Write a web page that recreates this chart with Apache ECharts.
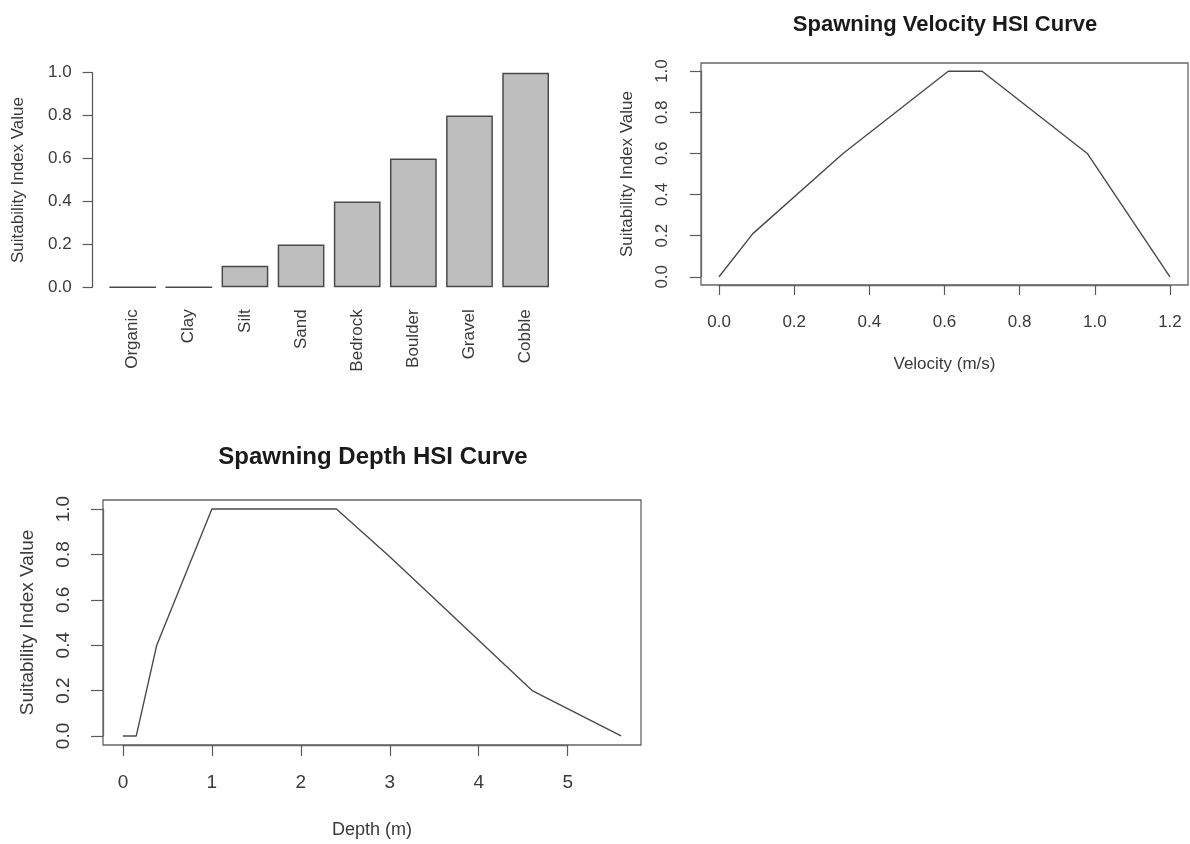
<!DOCTYPE html>
<html>
<head>
<meta charset="utf-8">
<script src="https://cdn.jsdelivr.net/npm/echarts@6/dist/echarts.min.js"></script>
<style>html,body{margin:0;padding:0;background:#fff}#c{width:1190px;height:844px}</style>
</head>
<body>
<div id="c"></div>
<script>
// ---- data ----
const substrates = ['Organic', 'Clay', 'Silt', 'Sand', 'Bedrock', 'Boulder', 'Gravel', 'Cobble'];
const substrateSI = [0, 0, 0.1, 0.2, 0.4, 0.6, 0.8, 1.0];

const velocity = [0, 0.09, 0.33, 0.61, 0.70, 0.98, 1.2];
const velocitySI = [0, 0.21, 0.6, 1.0, 1.0, 0.6, 0];

const depth = [0, 0.15, 0.38, 1.0, 2.4, 3.0, 4.6, 5.6];
const depthSI = [0, 0, 0.4, 1.0, 1.0, 0.79, 0.2, 0];

// tick ranges (R-style axes: ticks span these, plot region extended by 4%)
const siTickRange = [0, 1, 0.2];
const velocityTickRange = [0, 1.2, 0.2];
const depthTickRange = [0, 5, 1];

// ---- layout ----
const W = 1190, H = 844;
const ext = (lo, hi) => { const d = (hi - lo) * 0.04; return [lo - d, hi + d]; };
const velX = ext(0, 1.2), velY = ext(0, 1), depX = ext(0, 5.6), depY = ext(0, 1);
const velBox = {L: 701, R: 1188, T: 63, B: 285};
const depBox = {L: 103, R: 641, T: 500, B: 745};
const lin = (v, r, a, b) => a + (v - r[0]) / (r[1] - r[0]) * (b - a);

function tickGrid(box, xr, yr, xt, yt) {
  const l = lin(xt[0], xr, box.L, box.R), r = lin(xt[1], xr, box.L, box.R);
  const b = lin(yt[0], yr, box.B, box.T), t = lin(yt[1], yr, box.B, box.T);
  return {grid: {left: l, right: W - r, top: t, bottom: H - b, containLabel: false, outerBoundsMode: 'none'},
          xOff: box.B - b, yOff: l - box.L};
}
const velTG = tickGrid(velBox, velX, velY, velocityTickRange, siTickRange);
const depTG = tickGrid(depBox, depX, depY, depthTickRange, siTickRange);
const boxGrid = b => ({left: b.L, right: W - b.R, top: b.T, bottom: H - b.B, containLabel: false,
  outerBoundsMode: 'none', show: true, borderColor: '#666', borderWidth: 1.3, backgroundColor: 'transparent'});

// ---- chart ----
const FONT = '"Liberation Sans", Arial, sans-serif';
const TXT = '#3a3a3a';
const AX = '#5a5a5a';
const chart = echarts.init(document.getElementById('c'), null, {renderer: 'canvas'});
const pairs = (xs, ys) => xs.map((x, i) => [x, ys[i]]);
const fmt1 = v => Number(v).toFixed(1);
const lab = (o) => Object.assign({color: TXT, fontFamily: FONT}, o);

function tickAxis(grid, r, off, tickLen, label) {
  return {gridIndex: grid, type: 'value', min: r[0], max: r[1], interval: r[2], offset: off,
    axisLine: {show: true, onZero: false, lineStyle: {color: '#666', width: 1.3}},
    axisTick: {show: true, inside: false, length: tickLen, lineStyle: {color: AX, width: 1.2}},
    splitLine: {show: false}, axisLabel: lab(label)};
}
// plot-region axes: carry the data scale and the centred axis title only
const boxAxis = (grid, r, name, gap, size) => ({gridIndex: grid, type: 'value', min: r[0], max: r[1],
  axisLine: {show: false, onZero: false}, axisTick: {show: false}, axisLabel: {show: false},
  splitLine: {show: false},
  name: name, nameLocation: 'middle', nameGap: gap, nameTextStyle: lab({fontSize: size})});

chart.setOption({
  animation: false,
  backgroundColor: '#fff',
  title: [
    {text: 'Spawning Velocity HSI Curve', left: 940, top: 9, textAlign: 'center',
     textStyle: {fontFamily: FONT, fontWeight: 'bold', fontSize: 22, color: '#1a1a1a'}},
    {text: 'Spawning Depth HSI Curve', left: 368, top: 440, textAlign: 'center',
     textStyle: {fontFamily: FONT, fontWeight: 'bold', fontSize: 24, color: '#1a1a1a'}}
  ],
  grid: [
    {left: 104.6, right: 636.3, top: 72.7, bottom: 556.7, containLabel: false, outerBoundsMode: 'none'},
    boxGrid(velBox), velTG.grid,
    boxGrid(depBox), depTG.grid
  ],
  xAxis: [
    {gridIndex: 0, type: 'category', data: substrates,
     axisLine: {show: false}, axisTick: {show: false},
     axisLabel: lab({rotate: 90, fontSize: 17, margin: 22, interval: 0})},
    boxAxis(1, velX, 'Velocity (m/s)', 71, 17),
    tickAxis(2, velocityTickRange, velTG.xOff, 10, {fontSize: 17, margin: 29, formatter: fmt1}),
    boxAxis(3, depX, 'Depth (m)', 76, 18),
    tickAxis(4, depthTickRange, depTG.xOff, 11, {fontSize: 19, margin: 28})
  ],
  yAxis: [
    {gridIndex: 0, type: 'value', min: 0, max: 1, interval: 0.2, offset: 12,
     axisLine: {show: true, onZero: false, lineStyle: {color: AX, width: 1.3}},
     axisTick: {show: true, length: 10, lineStyle: {color: AX, width: 1.2}},
     splitLine: {show: false},
     axisLabel: lab({fontSize: 17, margin: 21, formatter: fmt1}),
     name: 'Suitability Index Value', nameLocation: 'middle', nameGap: 66,
     nameTextStyle: lab({fontSize: 17})},
    boxAxis(1, velY, 'Suitability Index Value', 65, 17),
    tickAxis(2, siTickRange, velTG.yOff, 11, {fontSize: 17, margin: 30, rotate: 90, formatter: fmt1}),
    boxAxis(3, depY, 'Suitability Index Value', 66, 19),
    tickAxis(4, siTickRange, depTG.yOff, 12, {fontSize: 19, margin: 30, rotate: 90, formatter: fmt1})
  ],
  series: [
    {type: 'bar', xAxisIndex: 0, yAxisIndex: 0, data: substrateSI, barCategoryGap: '16.7%',
     itemStyle: {color: '#bebebe', borderColor: '#4a4a4a', borderWidth: 1.5}},
    {type: 'line', xAxisIndex: 1, yAxisIndex: 1, data: pairs(velocity, velocitySI),
     symbol: 'none', lineStyle: {color: '#4a4a4a', width: 1.4}},
    {type: 'line', xAxisIndex: 3, yAxisIndex: 3, data: pairs(depth, depthSI),
     symbol: 'none', lineStyle: {color: '#4a4a4a', width: 1.4}}
  ]
});
</script>
</body>
</html>
